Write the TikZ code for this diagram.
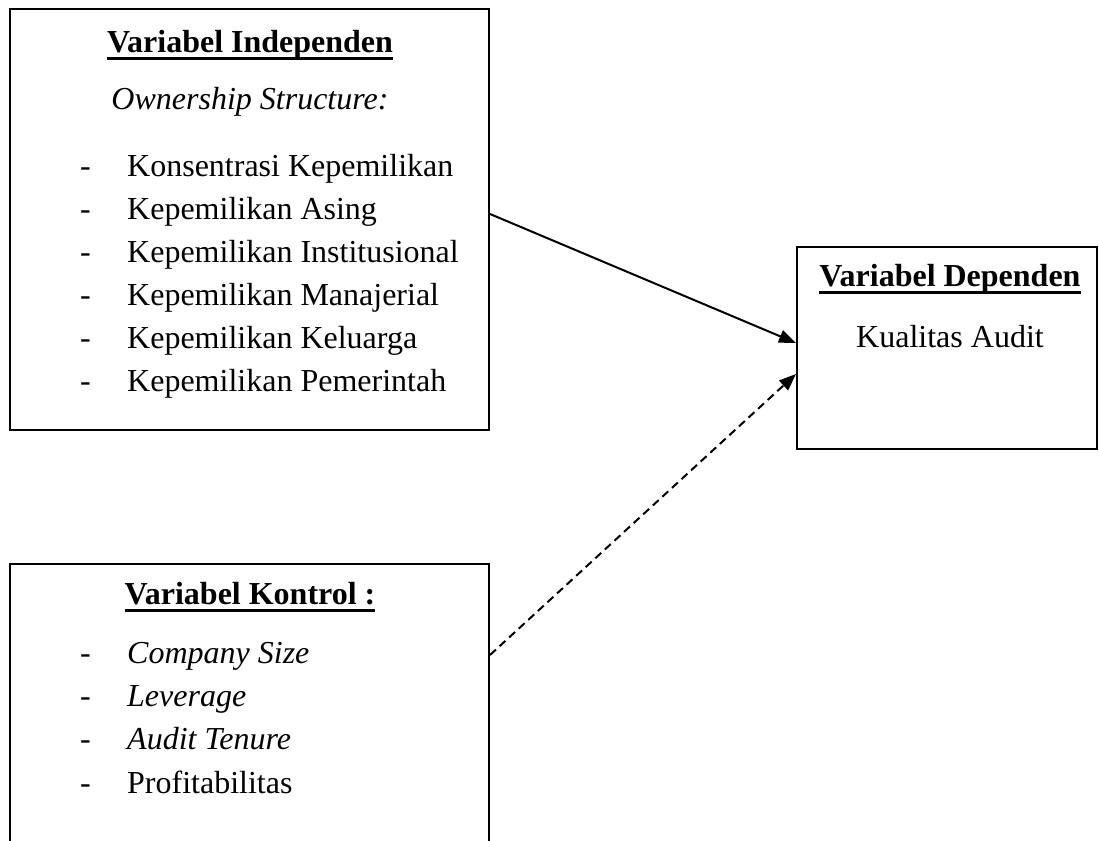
\documentclass[tikz,border=0pt]{standalone}
\usepackage{fontspec}
\setmainfont{Liberation Serif}
\usetikzlibrary{arrows.meta}
\newsavebox\ulbox
\newcommand\myul[1]{\sbox\ulbox{#1}\rlap{\rule[-7pt]{\wd\ulbox}{2.8pt}}\usebox\ulbox}
\begin{document}
\begin{tikzpicture}[x=1pt,y=1pt,
  txt/.style={inner sep=0pt, font=\fontsize{32}{38}\selectfont},
  box/.style={draw, line width=2pt, inner sep=0pt},
  conn/.style={line width=2pt, -{Triangle[length=17pt,width=13pt]}}]
\useasboundingbox (0,0) rectangle (1099,840);
% boxes
\node[box, minimum width=479pt, minimum height=421pt] (b1) at (249.5,620.5) {};
\node[box, minimum width=300pt, minimum height=202pt] (b2) at (947,492) {};
\node[box, minimum width=479pt, minimum height=286pt] (b3) at (249.5,133) {};
% box 1 texts
\node[txt, anchor=base] (h1) at (250,787) {\bfseries\myul{Variabel Independen}};
\node[txt, anchor=base] (os) at (250,730) {\itshape Ownership Structure:};
\foreach \t [count=\i] in {Konsentrasi Kepemilikan, Kepemilikan Asing, Kepemilikan Institusional, Kepemilikan Manajerial, Kepemilikan Keluarga, Kepemilikan Pemerintah}{
  \node[txt, anchor=base west] (d1\i) at (80,{663-43*(\i-1)}) {-};
  \node[txt, anchor=base west] (i1\i) at (127,{663-43*(\i-1)}) {\t};
}
% box 2 texts
\node[txt, anchor=base] (h2) at (950,553) {\bfseries\myul{Variabel Dependen}};
\node[txt, anchor=base] (ka) at (950,492) {Kualitas Audit};
% box 3 texts
\node[txt, anchor=base] (h3) at (250,235) {\bfseries\myul{Variabel Kontrol :}};
\foreach \t/\s [count=\i] in {Company Size/\itshape, Leverage/\itshape, Audit Tenure/\itshape, Profitabilitas/\upshape}{
  \node[txt, anchor=base west] (d3\i) at (80,{176-43*(\i-1)}) {-};
  \node[txt, anchor=base west] (i3\i) at (127,{176-43*(\i-1)}) {\s\t};
}
% connectors
\draw[conn] ([yshift=5.5pt]b1.east) -- ([yshift=5pt]b2.west);
\draw[conn, dash pattern=on 8pt off 5pt] ([yshift=52pt]b3.east) -- ([yshift=-26pt]b2.west);
\end{tikzpicture}
\end{document}
